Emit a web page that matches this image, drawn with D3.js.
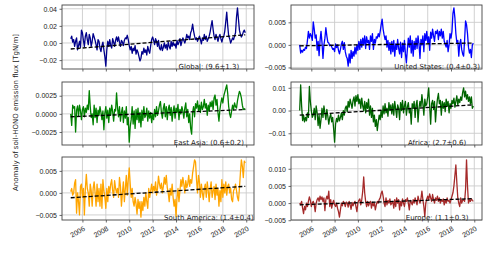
<!DOCTYPE html>
<html lang="en">
<head>
<meta charset="UTF-8" />
<title>Soil-HONO anomaly</title>
<style>
  body { margin: 0; background: #fff; }
  svg { font-family: "DejaVu Sans", sans-serif; }
  .grid line { stroke: #cccccc; stroke-width: 0.9; }
  .tick-lbl { font-size: 7px; fill: #222; }
  .frame { fill: none; stroke: #444; stroke-width: 0.9; }
  .trend { fill: none; stroke: #000; stroke-width: 1.3; stroke-dasharray: 4,2; }
</style>
</head>
<body>
<script src="https://cdn.jsdelivr.net/npm/d3@7"></script>
<script>

// monthly anomalies, Jan 2005 - Dec 2019
var startYear = 2005;

var globalVals = [
  0.005, 0.008, 0.001, 0.004, -0.004, 0.002, 0.006, -0.008, -0.003, 0.002, -0.005, 0.015,
  0.012, 0.003, -0.004, 0.008, 0.012, 0.004, -0.002, 0.010, 0.006, -0.004, 0.002, 0.011,
  0.007, 0.003, -0.002, -0.008, 0.004, 0.002, -0.006, -0.010, -0.003, 0.001, -0.008, -0.016,
  -0.027, -0.008, 0.002, -0.004, 0.004, -0.003, -0.006, 0.005, 0.001, -0.004, 0.003, 0.007,
  0.002, 0.007, 0.001, -0.004, 0.003, 0.001, -0.003, 0.003, 0.006, 0.005, 0.009, 0.004,
  -0.003, -0.008, -0.004, -0.012, -0.006, -0.009, -0.003, -0.013, -0.008, -0.011, -0.016, -0.021,
  -0.018, -0.010, -0.013, -0.006, -0.011, -0.008, -0.014, -0.004, -0.009, -0.012, -0.003, 0.004,
  0.007, 0.003, -0.002, 0.005, 0.002, -0.004, 0.003, -0.006, -0.008, -0.002, -0.009, -0.005,
  0.000, -0.006, -0.002, -0.008, 0.001, -0.004, -0.007, 0.002, -0.004, 0.001, -0.003, -0.001,
  -0.006, 0.003, -0.002, 0.001, 0.005, -0.003, 0.002, 0.006, 0.003, 0.000, 0.004, 0.010,
  0.006, 0.008, 0.004, 0.012, 0.015, 0.022, 0.014, 0.008, 0.004, 0.006, 0.002, 0.005,
  0.008, 0.004, -0.001, 0.006, 0.003, 0.010, 0.004, 0.008, 0.002, 0.005, 0.008, 0.013,
  0.020, 0.026, 0.016, 0.008, 0.004, 0.010, 0.006, 0.002, 0.007, 0.010, 0.005, 0.001,
  0.006, 0.008, 0.014, 0.025, 0.036, 0.020, 0.008, 0.005, 0.000, 0.003, 0.006, 0.004,
  0.008, 0.012, 0.030, 0.041, 0.028, 0.015, 0.010, 0.007, 0.009, 0.013, 0.015, 0.012
];

var usVals = [
  0.0000, -0.0018, -0.0012, -0.0016, -0.0010, -0.0012, -0.0005, -0.0008, 0.0010, 0.0030, 0.0015, 0.0025,
  0.0020, 0.0010, 0.0051, 0.0035, 0.0015, 0.0022, -0.0012, 0.0008, -0.0024, 0.0010, 0.0030, 0.0005,
  -0.0030, 0.0000, 0.0015, 0.0038, 0.0020, 0.0006, 0.0004, -0.0002, 0.0000, -0.0004, -0.0010, -0.0008,
  -0.0015, 0.0002, -0.0006, 0.0000, -0.0012, -0.0020, -0.0010, 0.0002, 0.0008, -0.0010, 0.0005, -0.0015,
  -0.0025, -0.0030, -0.0047, -0.0020, -0.0040, -0.0012, -0.0030, -0.0015, -0.0025, -0.0005, -0.0020, 0.0000,
  -0.0012, 0.0008, -0.0010, 0.0012, -0.0005, 0.0015, 0.0000, 0.0020, -0.0008, 0.0018, 0.0005, 0.0010,
  -0.0010, 0.0020, 0.0008, 0.0025, -0.0010, 0.0012, 0.0004, 0.0018, 0.0015, 0.0025, 0.0018, 0.0030,
  0.0045, 0.0057, 0.0035, 0.0022, 0.0012, 0.0020, -0.0005, 0.0010, -0.0012, 0.0005, -0.0020, 0.0008,
  -0.0015, 0.0010, -0.0025, 0.0002, -0.0010, 0.0012, -0.0008, -0.0020, 0.0006, -0.0028, 0.0004, -0.0015,
  0.0010, -0.0020, -0.0040, -0.0010, 0.0015, -0.0005, 0.0020, -0.0018, 0.0010, -0.0025, 0.0008, -0.0010,
  0.0015, -0.0008, 0.0020, 0.0002, -0.0030, 0.0012, 0.0000, 0.0020, -0.0015, 0.0025, 0.0010, 0.0030,
  0.0005, 0.0018, -0.0012, 0.0028, 0.0015, 0.0035, 0.0020, 0.0008, 0.0030, 0.0025, 0.0033, 0.0012,
  0.0030, 0.0020, 0.0035, 0.0015, 0.0030, 0.0008, 0.0002, -0.0005, 0.0010, -0.0015, 0.0000, 0.0025,
  0.0015, 0.0030, 0.0070, 0.0082, 0.0060, 0.0025, 0.0005, 0.0010, -0.0025, 0.0002, 0.0012, -0.0010,
  -0.0020, -0.0025, 0.0010, 0.0053, 0.0045, 0.0025, -0.0005, -0.0018, -0.0010, -0.0028, 0.0000, 0.0004
];

var eastAsiaVals = [
  0.0000, -0.0016, 0.0012, 0.0008, 0.0010, -0.0025, 0.0005, 0.0011, -0.0003, 0.0012, 0.0004, -0.0008,
  0.0006, 0.0010, -0.0004, 0.0008, 0.0002, 0.0012, 0.0006, 0.0032, 0.0010, -0.0005, 0.0000, -0.0015,
  0.0012, -0.0005, 0.0008, -0.0012, 0.0005, -0.0002, 0.0010, 0.0002, -0.0008, 0.0004, -0.0022, 0.0001,
  0.0010, -0.0006, 0.0005, -0.0012, 0.0008, -0.0002, 0.0012, 0.0003, -0.0010, 0.0006, 0.0004, 0.0029,
  0.0008, -0.0004, 0.0010, -0.0010, 0.0002, 0.0009, -0.0012, 0.0004, -0.0006, 0.0010, -0.0015, -0.0005,
  -0.0039, -0.0018, -0.0008, 0.0010, -0.0014, 0.0004, -0.0020, 0.0006, -0.0008, 0.0008, -0.0012, 0.0002,
  -0.0018, 0.0005, -0.0009, 0.0010, -0.0005, -0.0002, 0.0008, -0.0010, 0.0004, -0.0006, 0.0002, -0.0012,
  0.0000, -0.0008, 0.0006, -0.0004, 0.0010, -0.0002, 0.0004, 0.0012, 0.0017, 0.0002, -0.0006, 0.0008,
  0.0014, -0.0004, 0.0010, -0.0008, 0.0006, 0.0012, -0.0002, 0.0009, -0.0010, 0.0004, 0.0011, -0.0006,
  0.0008, 0.0002, 0.0013, -0.0008, 0.0006, 0.0000, 0.0010, 0.0004, -0.0006, 0.0008, 0.0015, -0.0004,
  0.0006, -0.0012, 0.0000, -0.0020, -0.0028, 0.0002, 0.0010, -0.0004, 0.0014, 0.0008, 0.0018, 0.0004,
  0.0012, 0.0002, 0.0016, 0.0006, 0.0010, 0.0020, 0.0008, 0.0014, -0.0002, 0.0012, 0.0004, 0.0016,
  0.0010, 0.0018, 0.0006, 0.0022, 0.0026, 0.0012, 0.0020, 0.0002, -0.0010, 0.0006, 0.0015, 0.0022,
  0.0015, 0.0025, 0.0030, 0.0035, 0.0040, 0.0028, 0.0010, 0.0000, -0.0005, 0.0004, 0.0012, 0.0006,
  0.0015, 0.0010, 0.0008, 0.0018, 0.0025, 0.0031, 0.0028, 0.0022, 0.0012, 0.0006, 0.0007, 0.0006
];

var africaVals = [
  0.0000, 0.0113, 0.0020, -0.0044, -0.0020, -0.0050, -0.0030, -0.0045, -0.0010, -0.0030, 0.0106, 0.0040,
  0.0000, -0.0030, -0.0020, 0.0010, -0.0040, 0.0020, -0.0010, -0.0066, -0.0020, -0.0078, -0.0040, 0.0010,
  -0.0030, 0.0020, -0.0010, -0.0040, 0.0005, -0.0025, -0.0060, -0.0030, -0.0015, -0.0050, -0.0030, -0.0080,
  -0.0139, -0.0060, -0.0035, -0.0050, -0.0020, -0.0045, -0.0030, -0.0010, -0.0040, 0.0000, -0.0020, 0.0010,
  0.0020, -0.0005, 0.0040, 0.0015, 0.0050, 0.0030, 0.0010, 0.0045, 0.0060, 0.0020, 0.0066, 0.0040,
  0.0070, 0.0030, 0.0050, 0.0010, 0.0055, 0.0020, 0.0000, 0.0040, -0.0010, 0.0035, 0.0010, 0.0050,
  -0.0020, 0.0020, -0.0030, 0.0010, -0.0050, -0.0020, -0.0070, -0.0040, -0.0088, -0.0050, -0.0020, -0.0040,
  0.0000, -0.0030, 0.0020, -0.0015, 0.0030, -0.0010, 0.0010, -0.0025, 0.0035, 0.0000, 0.0025, -0.0015,
  0.0030, -0.0020, 0.0040, 0.0005, -0.0030, 0.0025, 0.0010, -0.0040, 0.0035, 0.0000, 0.0045, -0.0010,
  0.0020, 0.0040, -0.0020, 0.0015, 0.0035, -0.0010, 0.0005, -0.0060, 0.0030, 0.0010, 0.0040, -0.0030,
  0.0025, 0.0045, -0.0050, 0.0010, 0.0040, 0.0015, 0.0070, 0.0030, -0.0020, 0.0050, 0.0020, 0.0030,
  0.0060, 0.0100, 0.0020, -0.0060, 0.0030, 0.0045, 0.0005, 0.0040, -0.0050, 0.0010, 0.0050, 0.0075,
  0.0030, 0.0045, -0.0020, 0.0040, 0.0010, 0.0035, -0.0005, 0.0050, 0.0020, 0.0040, -0.0010, 0.0030,
  0.0010, 0.0045, 0.0030, 0.0055, 0.0015, 0.0040, 0.0065, 0.0025, 0.0050, 0.0035, 0.0060, 0.0045,
  0.0080, 0.0100, 0.0060, 0.0085, 0.0050, 0.0070, 0.0040, 0.0060, 0.0030, 0.0060, 0.0010, 0.0020
];

var southAmericaVals = [
  0.0003, 0.0010, -0.0005, 0.0000, 0.0022, 0.0030, -0.0046, 0.0000, -0.0020, -0.0050, 0.0015, 0.0020,
  -0.0010, 0.0010, -0.0050, 0.0010, 0.0042, 0.0010, 0.0000, -0.0030, 0.0020, 0.0005, -0.0030, 0.0010,
  0.0025, 0.0000, -0.0030, 0.0020, -0.0020, 0.0010, -0.0030, 0.0020, -0.0035, 0.0030, 0.0005, -0.0010,
  -0.0035, 0.0010, -0.0020, 0.0015, 0.0000, 0.0020, 0.0030, 0.0005, -0.0010, 0.0028, 0.0010, 0.0000,
  0.0010, -0.0010, 0.0035, 0.0015, -0.0030, 0.0000, 0.0025, -0.0020, 0.0010, 0.0040, -0.0005, 0.0030,
  0.0057, 0.0020, -0.0010, 0.0010, -0.0020, -0.0030, -0.0010, -0.0025, -0.0048, -0.0015, -0.0035, -0.0020,
  -0.0055, -0.0020, -0.0040, -0.0010, -0.0030, 0.0000, -0.0020, -0.0035, 0.0010, -0.0010, 0.0005, 0.0020,
  0.0000, 0.0015, 0.0005, 0.0025, -0.0005, 0.0010, 0.0038, 0.0020, 0.0010, 0.0022, 0.0000, 0.0015,
  0.0035, 0.0020, 0.0040, 0.0012, 0.0000, -0.0020, 0.0010, -0.0005, 0.0020, -0.0010, -0.0030, -0.0015,
  -0.0054, -0.0010, 0.0010, -0.0020, 0.0005, 0.0030, 0.0015, 0.0035, 0.0020, 0.0000, 0.0028, 0.0012,
  0.0020, 0.0040, 0.0015, 0.0030, 0.0022, 0.0045, 0.0060, 0.0075, 0.0070, 0.0030, 0.0000, 0.0040,
  0.0025, -0.0010, 0.0020, 0.0000, -0.0015, 0.0010, 0.0020, -0.0010, 0.0025, 0.0005, -0.0020, 0.0010,
  0.0025, -0.0010, 0.0005, 0.0015, -0.0015, 0.0020, -0.0005, 0.0010, -0.0030, 0.0005, -0.0020, 0.0030,
  -0.0010, 0.0020, 0.0000, 0.0025, -0.0005, 0.0015, 0.0020, 0.0000, 0.0010, -0.0015, -0.0020, 0.0005,
  0.0010, 0.0020, 0.0005, -0.0010, -0.0018, 0.0010, 0.0045, 0.0075, 0.0060, 0.0035, 0.0072, 0.0068
];

var europeVals = [
  0.0000, -0.0005, 0.0005, -0.0015, -0.0031, -0.0010, -0.0020, 0.0000, -0.0010, 0.0005, 0.0018, 0.0008,
  -0.0010, 0.0000, 0.0005, -0.0005, -0.0025, 0.0000, 0.0010, 0.0015, 0.0005, 0.0020, 0.0010, 0.0018,
  0.0005, 0.0015, -0.0022, 0.0010, 0.0020, 0.0012, 0.0035, -0.0010, 0.0010, -0.0015, 0.0000, 0.0008,
  -0.0005, -0.0010, 0.0000, -0.0015, -0.0025, -0.0041, -0.0020, 0.0000, -0.0008, 0.0005, 0.0000, -0.0010,
  0.0003, 0.0000, -0.0012, 0.0005, -0.0005, -0.0018, 0.0002, -0.0008, 0.0000, 0.0005, -0.0010, -0.0025,
  0.0000, 0.0008, 0.0012, -0.0005, 0.0010, 0.0035, 0.0076, 0.0030, 0.0005, -0.0010, 0.0005, -0.0008,
  0.0000, 0.0005, -0.0015, 0.0002, -0.0008, 0.0000, -0.0020, -0.0005, 0.0005, 0.0000, 0.0010, 0.0015,
  0.0028, 0.0035, 0.0020, 0.0000, -0.0010, 0.0015, -0.0005, 0.0008, 0.0000, 0.0012, -0.0005, 0.0000,
  0.0005, -0.0015, 0.0010, -0.0010, 0.0015, 0.0000, 0.0010, -0.0020, 0.0005, -0.0008, 0.0012, 0.0000,
  -0.0010, 0.0010, 0.0005, 0.0015, 0.0000, -0.0020, 0.0008, 0.0002, -0.0005, 0.0010, 0.0000, 0.0015,
  0.0005, -0.0005, 0.0020, 0.0008, 0.0000, 0.0012, 0.0035, 0.0010, -0.0010, -0.0040, 0.0000, 0.0012,
  0.0020, 0.0010, 0.0027, 0.0015, 0.0005, 0.0025, 0.0010, 0.0000, 0.0015, 0.0008, 0.0020, 0.0005,
  0.0015, 0.0000, 0.0010, 0.0005, 0.0012, -0.0005, 0.0010, 0.0000, 0.0015, 0.0005, 0.0008, 0.0000,
  0.0010, 0.0020, 0.0030, 0.0050, 0.0080, 0.0111, 0.0060, 0.0015, 0.0000, -0.0010, 0.0015, 0.0000,
  0.0008, 0.0010, 0.0005, 0.0040, 0.0126, 0.0050, 0.0000, 0.0010, 0.0005, 0.0012, 0.0008, 0.0005
];

var regionNames = ["Global", "United States", "East Asia", "Africa", "South America", "Europe"];
var trendText = ["(9.6\u00b11.3)", "(0.4\u00b10.3)", "(0.6\u00b10.2)", "(2.7\u00b10.6)", "(1.4\u00b10.4)", "(1.1\u00b10.3)"];
// dashed linear trend, value at start and end of the record
var trendStart = [-0.0070, -0.0002, -0.0004, -0.0020, -0.0011, -0.0005];
var trendEnd = [0.0095, 0.0004, 0.0006, 0.0025, 0.0015, 0.0013];

var yTicks = [
  [-0.02, 0.00, 0.02, 0.04],
  [-0.005, 0.000, 0.005],
  [-0.0025, 0.0000, 0.0025],
  [-0.01, 0.00, 0.01],
  [-0.005, 0.000, 0.005],
  [-0.005, 0.000, 0.005, 0.010]
];
var yFormats = [".2f", ".3f", ".4f", ".2f", ".3f", ".3f"];
var xTickYears = [2006, 2008, 2010, 2012, 2014, 2016, 2018, 2020];

var allVals = [globalVals, usVals, eastAsiaVals, africaVals, southAmericaVals, europeVals];
var colors = ["#00008b", "#0000ff", "#008000", "#006400", "#ffa500", "#a52a2a"];

var w = 500, h = 256;
var colX = [[62, 254], [291, 482]];
var rowY = [[5, 69], [82, 145], [157, 220]];

var svg = d3.select("body").append("svg")
  .attr("width", w)
  .attr("height", h);

var minus = function(s) { return s.replace("-", "\u2212"); };

allVals.forEach(function(vals, k) {
  var col = k % 2, row = Math.floor(k / 2);
  var x0 = colX[col][0], x1 = colX[col][1];
  var y0 = rowY[row][0], y1 = rowY[row][1];

  var data = vals.map(function(v, i) { return { t: startYear + i / 12, v: v }; });

  // matplotlib style 5% margins
  var tExt = d3.extent(data, function(d) { return d.t; });
  var tPad = (tExt[1] - tExt[0]) * 0.05;
  var vExt = d3.extent(vals);
  var vPad = (vExt[1] - vExt[0]) * 0.05;

  var xScale = d3.scaleLinear()
    .domain([tExt[0] - tPad, tExt[1] + tPad])
    .range([x0, x1]);
  var yScale = d3.scaleLinear()
    .domain([vExt[0] - vPad, vExt[1] + vPad])
    .range([y1, y0]);

  var g = svg.append("g");

  // grid
  var grid = g.append("g").attr("class", "grid");
  grid.selectAll(".gx").data(xTickYears).enter().append("line")
    .attr("x1", function(d) { return xScale(d); })
    .attr("x2", function(d) { return xScale(d); })
    .attr("y1", y0).attr("y2", y1);
  grid.selectAll(".gy").data(yTicks[k]).enter().append("line")
    .attr("x1", x0).attr("x2", x1)
    .attr("y1", function(d) { return yScale(d); })
    .attr("y2", function(d) { return yScale(d); });

  var line = d3.line()
    .x(function(d) { return xScale(d.t); })
    .y(function(d) { return yScale(d.v); });

  g.append("path")
    .datum(data)
    .attr("fill", "none")
    .attr("stroke", colors[k])
    .attr("stroke-width", 1.3)
    .attr("stroke-linejoin", "round")
    .attr("d", line);

  g.append("path")
    .datum([{ t: tExt[0], v: trendStart[k] }, { t: tExt[1], v: trendEnd[k] }])
    .attr("class", "trend")
    .attr("d", line);

  // axes
  var yAxis = d3.axisLeft(yScale)
    .tickValues(yTicks[k])
    .tickSize(2.5)
    .tickPadding(2.5)
    .tickFormat(function(d) { return minus(d3.format(yFormats[k])(d)); });
  var ya = g.append("g")
    .attr("transform", "translate(" + x0 + ",0)")
    .call(yAxis);
  ya.select(".domain").remove();
  ya.selectAll("line").attr("stroke", "#444").attr("stroke-width", 0.8);
  ya.selectAll("text").attr("class", "tick-lbl").attr("font-size", null).attr("font-family", null);

  var xAxis = d3.axisBottom(xScale)
    .tickValues(xTickYears)
    .tickSize(2.5)
    .tickFormat(row === 2 ? d3.format("d") : "");
  var xa = g.append("g")
    .attr("transform", "translate(0," + y1 + ")")
    .call(xAxis);
  xa.select(".domain").remove();
  xa.selectAll("line").attr("stroke", "#444").attr("stroke-width", 0.8);
  xa.selectAll("text")
    .attr("class", "tick-lbl")
    .attr("font-size", null).attr("font-family", null)
    .attr("text-anchor", "end")
    .attr("y", 0).attr("dy", "0.75em")
    .attr("transform", "translate(0,5.5) rotate(-30)");

  g.append("rect")
    .attr("class", "frame")
    .attr("x", x0).attr("y", y0)
    .attr("width", x1 - x0).attr("height", y1 - y0);

  g.append("text")
    .attr("class", "tick-lbl")
    .attr("x", x0 + (x1 - x0) * 0.765)
    .attr("y", y1 - 0.5)
    .attr("text-anchor", "middle")
    .text(regionNames[k] + ": " + trendText[k]);
});

svg.append("text")
  .attr("class", "tick-lbl")
  .attr("transform", "translate(18,112.5) rotate(-90)")
  .attr("text-anchor", "middle")
  .text("Anomaly of soil-HONO emission flux [TgN/m]");

</script>
</body>
</html>
